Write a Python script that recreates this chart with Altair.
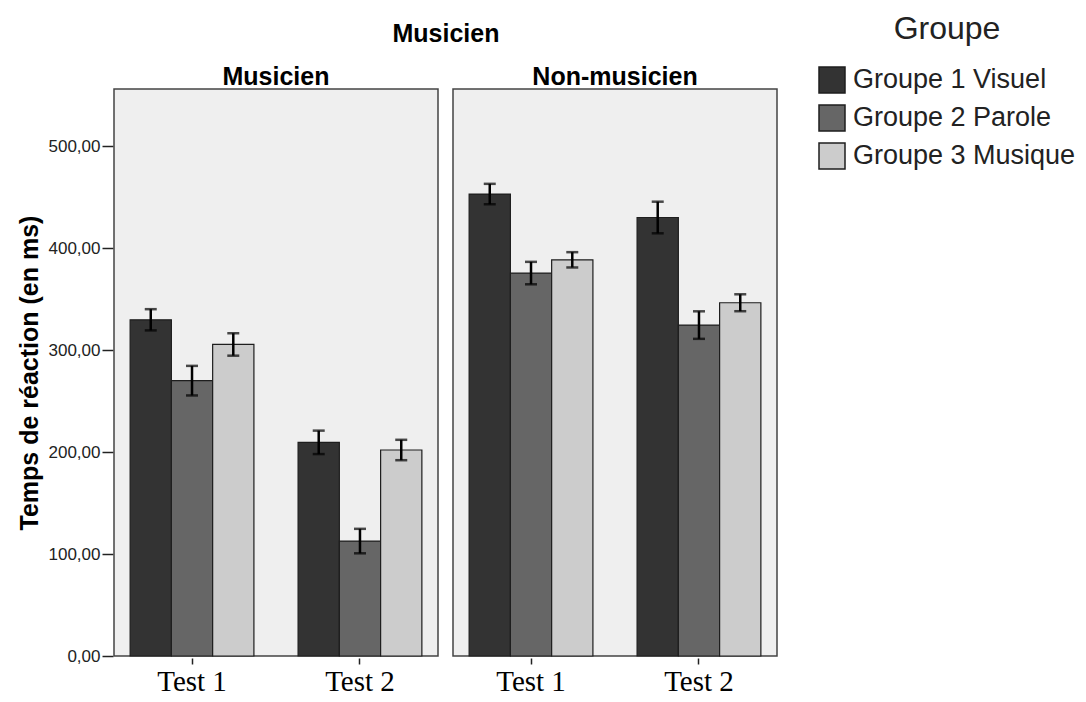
import altair as alt
import pandas as pd

panels = ["Musicien"] * 6 + ["Non-musicien"] * 6
tests = ["Test 1"] * 3 + ["Test 2"] * 3 + ["Test 1"] * 3 + ["Test 2"] * 3
groupe_labels = ["Groupe 1 Visuel", "Groupe 2 Parole", "Groupe 3 Musique"]
groupes = groupe_labels * 4
means = [329.7, 270.0, 305.5, 209.5, 112.7, 202.0,
         453.0, 375.5, 388.5, 430.0, 324.5, 346.4]
errs = [10.4, 14.5, 11.0, 11.5, 12.0, 10.0,
        10.0, 11.0, 7.5, 15.5, 13.5, 8.3]
colors = ["#333333", "#666666", "#CCCCCC"]
y_ticks = [0, 100, 200, 300, 400, 500]

df = pd.DataFrame({"Panel": panels, "Test": tests, "Groupe": groupes,
                   "Mean": means, "Err": errs})

x_enc = alt.X("Test:N", title=None, sort=["Test 1", "Test 2"],
              scale=alt.Scale(paddingInner=0.263, paddingOuter=0.096),
              axis=alt.Axis(labelAngle=0, labelFont="Liberation Serif", labelFontSize=29,
                            labelColor="#000000", tickSize=6, tickColor="#222222",
                            tickWidth=1.5, domain=False, labelPadding=3))
xoff = alt.XOffset("Groupe:N", sort=groupe_labels,
                   scale=alt.Scale(paddingInner=0, paddingOuter=0))
y_scale = alt.Scale(domain=[0, 556], nice=False, zero=True)

bars = alt.Chart().mark_bar(stroke="#1e1e1e", strokeWidth=1.2).encode(
    x=x_enc,
    xOffset=xoff,
    y=alt.Y("Mean:Q", scale=y_scale, title="Temps de réaction (en ms)",
            axis=alt.Axis(values=y_ticks, grid=False, domain=False, tickSize=11,
                          tickColor="#222222", tickWidth=1.5,
                          labelExpr="replace(format(datum.value, '.2f'), '.', ',')",
                          labelFont="Liberation Sans", labelFontSize=17,
                          labelColor="#222222", labelPadding=2,
                          titleFont="Liberation Sans", titleFontSize=25,
                          titleFontWeight="bold", titleColor="#000000",
                          titlePadding=6)),
    color=alt.Color("Groupe:N", sort=groupe_labels,
                    scale=alt.Scale(domain=groupe_labels, range=colors),
                    legend=alt.Legend(title="Groupe", orient="none", legendX=704, legendY=-75,
                                      titleFont="Liberation Sans", titleFontSize=32,
                                      titleFontWeight="normal", titleColor="#222222",
                                      titleAnchor="middle", titlePadding=20,
                                      labelFont="Liberation Sans", labelFontSize=27,
                                      labelColor="#222222", labelOffset=7, labelLimit=0,
                                      symbolType="square", symbolSize=676,
                                      symbolStrokeColor="#1e1e1e", symbolStrokeWidth=1.5,
                                      symbolOpacity=1, rowPadding=6)),
)

rules = alt.Chart().mark_rule(color="#000000", strokeWidth=2.5).transform_calculate(
    lo="datum.Mean - datum.Err", hi="datum.Mean + datum.Err"
).encode(
    x=x_enc, xOffset=xoff,
    y=alt.Y("lo:Q", scale=y_scale), y2="hi:Q",
)

cap_lo = alt.Chart().mark_tick(color="#000000", thickness=2.5, size=12).transform_calculate(
    lo="datum.Mean - datum.Err"
).encode(x=x_enc, xOffset=xoff, y=alt.Y("lo:Q", scale=y_scale))

cap_hi = alt.Chart().mark_tick(color="#000000", thickness=2.5, size=12).transform_calculate(
    hi="datum.Mean + datum.Err"
).encode(x=x_enc, xOffset=xoff, y=alt.Y("hi:Q", scale=y_scale))

layered = alt.layer(bars, rules, cap_lo, cap_hi, data=df).properties(width=324, height=567)

chart = layered.facet(
    column=alt.Column("Panel:N", sort=["Musicien", "Non-musicien"], title="Musicien",
                      header=alt.Header(titleFont="Liberation Sans", titleFontSize=25,
                                        titleFontWeight="bold", titleColor="#000000",
                                        titlePadding=7.5,
                                        labelFont="Liberation Sans", labelFontSize=25,
                                        labelFontWeight="bold", labelColor="#000000",
                                        labelPadding=-1.5)),
    spacing=13,
).properties(
    padding={"left": 9, "top": 6, "right": 0, "bottom": 0}, background="#FFFFFF"
).configure_view(
    fill="#EFEFEF", stroke="#444444", strokeWidth=1.5
)

chart.save("out.html", embed_options={"renderer": "svg", "actions": False})
